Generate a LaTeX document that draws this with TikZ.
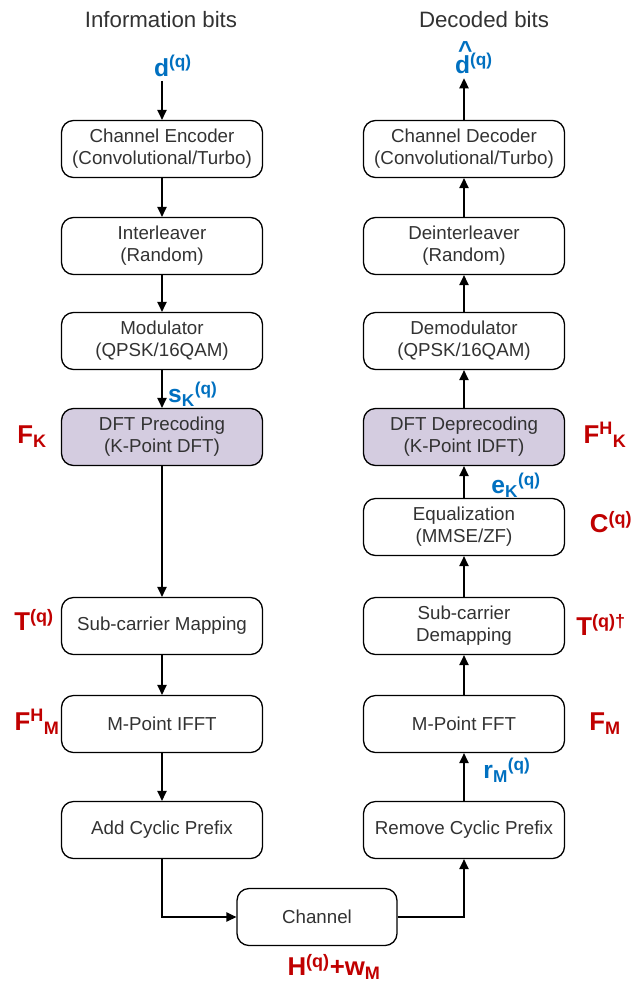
\documentclass[tikz,border=0pt]{standalone}
\usepackage{fontspec}
\setmainfont{Liberation Sans}
\usepackage{xcolor}
\usepackage{tikz}
\usetikzlibrary{arrows.meta, positioning}
\definecolor{sigblue}{RGB}{0, 112, 192}
\definecolor{matred}{RGB}{192, 0, 0}
\definecolor{dftfill}{RGB}{212, 204, 224}
\definecolor{inktext}{RGB}{50, 50, 50}

\tikzset{
    block/.style={draw, rounded corners=0.36cm, line width=1.1pt, minimum width=6.03cm,
        minimum height=1.71cm, align=center, text=inktext, font=\fontsize{16}{19}\selectfont},
    dftblock/.style={block, fill=dftfill},
    flow/.style={-{Triangle[length=8.5pt, width=8pt]}, line width=1.1pt},
    sig/.style={sigblue, font=\fontsize{21}{23}\selectfont\bfseries},
    mat/.style={matred, font=\fontsize{22}{24}\selectfont\bfseries},
    heading/.style={text=inktext, font=\fontsize{19}{22}\selectfont}
}
\newcommand{\hatd}{\rlap{\raisebox{0.62em}{\hspace{0.12em}\^{}}}d}

\begin{document}
\begin{tikzpicture}[x=0.03cm, y=-0.03cm]
    \useasboundingbox (0,0) rectangle (633,985);

    % Headings
    \node[heading] (infobits) at (161, 20) {Information bits};
    \node[heading] (decbits) at (484, 20) {Decoded bits};

    % Transmitter chain
    \node[block] (enc) at (162, 149) {Channel Encoder\\(Convolutional/Turbo)};
    \node[block] (intl) at (162, 246) {Interleaver\\(Random)};
    \node[block] (modu) at (162, 341) {Modulator\\(QPSK/16QAM)};
    \node[dftblock] (dftp) at (162, 437) {DFT Precoding\\(K-Point DFT)};
    \node[block] (map) at (162, 626) {Sub-carrier Mapping};
    \node[block] (ifft) at (162, 724) {M-Point IFFT};
    \node[block] (acp) at (162, 830) {Add Cyclic Prefix};

    % Channel
    \node[block, minimum width=4.8cm] (chan) at (317, 917) {Channel};

    % Receiver chain
    \node[block] (dec) at (464, 149) {Channel Decoder\\(Convolutional/Turbo)};
    \node[block] (deintl) at (464, 246) {Deinterleaver\\(Random)};
    \node[block] (demod) at (464, 341) {Demodulator\\(QPSK/16QAM)};
    \node[dftblock] (dftd) at (464, 437) {DFT Deprecoding\\(K-Point IDFT)};
    \node[block] (equ) at (464, 527) {Equalization\\(MMSE/ZF)};
    \node[block] (demap) at (464, 626) {Sub-carrier\\Demapping};
    \node[block] (fft) at (464, 724) {M-Point FFT};
    \node[block] (rcp) at (464, 830) {Remove Cyclic Prefix};

    % Signals (blue)
    \node[sig] (din) at (173, 66) {d\textsuperscript{(q)}};
    \node[sig] (dout) at (474, 58) {\hatd\textsuperscript{(q)}};
    \node[sig, anchor=west] (sk) at (164, 394) {s\textsubscript{K}\textsuperscript{(q)}};
    \node[sig] (ek) at (516, 485) {e\textsubscript{K}\textsuperscript{(q)}};
    \node[sig] (rm) at (507, 770) {r\textsubscript{M}\textsuperscript{(q)}};

    % Matrices (red)
    \node[mat] (fk) at (32, 437) {F\textsubscript{K}};
    \node[mat] (fhk) at (605, 435) {F\textsuperscript{H}\textsubscript{K}};
    \node[mat] (cq) at (611, 522) {C\textsuperscript{(q)}};
    \node[mat] (tq) at (34, 620) {T\textsuperscript{(q)}};
    \node[mat] (tqd) at (601, 625) {T\textsuperscript{(q)\textdagger}};
    \node[mat] (fhm) at (37, 722) {F\textsuperscript{H}\textsubscript{M}};
    \node[mat] (fm) at (605, 724) {F\textsubscript{M}};
    \node[mat] (hw) at (334, 967) {H\textsuperscript{(q)}+w\textsubscript{M}};

    % Transmitter arrows
    \draw[flow] (din.south -| enc.north) -- (enc);
    \draw[flow] (enc) -- (intl);
    \draw[flow] (intl) -- (modu);
    \draw[flow] (modu) -- (dftp);
    \draw[flow] (dftp) -- (map);
    \draw[flow] (map) -- (ifft);
    \draw[flow] (ifft) -- (acp);

    % Through the channel
    \draw[flow] (acp.south) |- (chan.west);
    \draw[flow] (chan.east) -| (rcp.south);

    % Receiver arrows
    \draw[flow] (rcp) -- (fft);
    \draw[flow] (fft) -- (demap);
    \draw[flow] (demap) -- (equ);
    \draw[flow] (equ) -- (dftd);
    \draw[flow] (dftd) -- (demod);
    \draw[flow] (demod) -- (deintl);
    \draw[flow] (deintl) -- (dec);
    \draw[flow] (dec) -- (dec.north |- dout.south);
\end{tikzpicture}
\end{document}
